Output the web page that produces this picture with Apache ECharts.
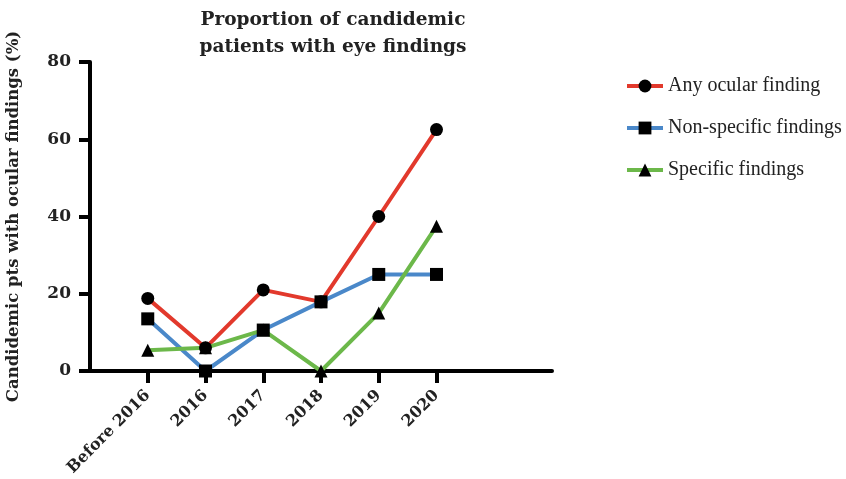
<!DOCTYPE html>
<html>
<head>
<meta charset="utf-8">
<script src="https://cdn.jsdelivr.net/npm/echarts@6/dist/echarts.min.js"></script>
<style>
  html, body { margin: 0; padding: 0; background: #fff; }
  #chart { width: 846px; height: 479px; }
</style>
</head>
<body>
<div id="chart"></div>
<script>
// padded with blanks so the axis runs past the last year like the original
const categories = ["", "Before 2016", "2016", "2017", "2018", "2019", "2020", "", ""];
const anyOcular = [null, 18.8, 6, 21, 17.9, 40, 62.5, null, null];
const nonSpecific = [null, 13.5, 0, 10.6, 17.9, 25, 25, null, null];
const specific = [null, 5.4, 6, 10.6, 0, 15, 37.5, null, null];
const yTicks = [0, 20, 40, 60, 80];

const font = "'Liberation Serif', serif";
const wideFont = "'DejaVu Serif', serif";

const chart = echarts.init(document.getElementById("chart"));

const mkSeries = (name, data, color, symbol, size) => ({
  name: name,
  type: "line",
  data: data,
  symbol: symbol,
  symbolSize: size,
  showSymbol: true,
  connectNulls: false,
  lineStyle: { color: color, width: 4 },
  itemStyle: { color: "#000" },
  emphasis: { disabled: true },
});

const option = {
  animation: false,
  title: {
    text: "Proportion of candidemic\npatients with eye findings",
    left: 328,
    textAlign: "center",
    top: 2,
    textStyle: {
      fontFamily: wideFont,
      fontSize: 18.5,
      fontWeight: "bold",
      color: "#222",
      lineHeight: 27,
    },
  },
  legend: {
    orient: "vertical",
    left: 620,
    top: 71,
    itemGap: 22,
    itemWidth: 36,
    itemHeight: 16,
    lineStyle: { width: 4 },
    textStyle: { fontFamily: font, fontSize: 20, color: "#222" },
    data: ["Any ocular finding", "Non-specific findings", "Specific findings"],
  },
  grid: { left: 90, right: 294, top: 62, bottom: 108, containLabel: false, outerBoundsMode: "none" },
  xAxis: {
    type: "category",
    boundaryGap: false,
    data: categories,
    axisLine: { lineStyle: { color: "#000", width: 4 } },
    axisTick: {
      length: 12,
      lineStyle: { color: "#000", width: 4 },
      interval: (i, v) => v !== "",
    },
    axisLabel: {
      interval: 0,
      rotate: 45,
      margin: 22,
      fontFamily: wideFont,
      fontSize: 16,
      fontWeight: "bold",
      color: "#222",
    },
  },
  yAxis: {
    type: "value",
    min: yTicks[0],
    max: yTicks[yTicks.length - 1],
    interval: 20,
    name: "Candidemic pts with ocular findings (%)",
    nameLocation: "middle",
    nameGap: 68,
    nameTextStyle: { fontFamily: wideFont, fontSize: 16.5, fontWeight: "bold", color: "#222" },
    splitLine: { show: false },
    axisLine: { show: true, lineStyle: { color: "#000", width: 4 } },
    axisTick: { show: true, length: 11, lineStyle: { color: "#000", width: 4 } },
    axisLabel: { margin: 19, fontFamily: wideFont, fontSize: 17, fontWeight: "bold", color: "#222" },
  },
  series: [
    mkSeries("Any ocular finding", anyOcular, "#e2392c", "circle", 13),
    mkSeries("Non-specific findings", nonSpecific, "#4a88c9", "rect", 13),
    mkSeries("Specific findings", specific, "#6cb84a", "triangle", 13),
  ],
};

chart.setOption(option);
</script>
</body>
</html>
